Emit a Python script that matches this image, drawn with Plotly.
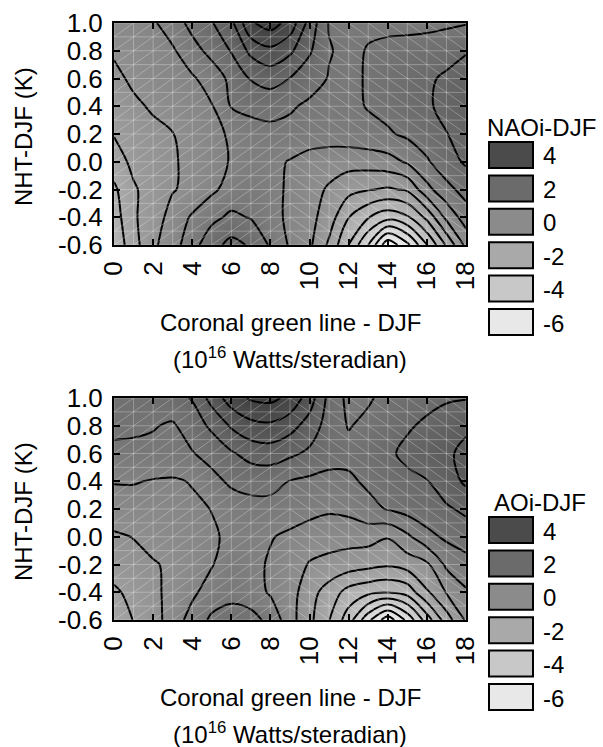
import numpy as np
import plotly.graph_objects as go

# ---------------- data ----------------
x_vals = list(range(0, 19))                      # Coronal green line (1e16 W/sr)
y_vals = [1.0, 0.8, 0.6, 0.4, 0.2, 0.0, -0.2, -0.4, -0.6]   # NHT-DJF (K), rows top->bottom

naoi_z = [
    [0.0, 0.1, 0.3, 0.8, 1.45, 1.95, 2.6, 4.3, 4.75, 4.1, 2.5, 1.15, 1.0, 1.05, 1.05, 1.0, 1.0, 1.05, 1.15],
    [-0.3, -0.15, 0.05, 0.3, 0.9, 1.45, 2.05, 3.0, 3.4, 2.95, 2.1, 1.25, 1.0, 1.25, 1.35, 1.45, 1.55, 1.75, 1.95],
    [-0.6, -0.25, -0.05, 0.1, 0.3, 0.75, 1.4, 2.05, 2.3, 1.98, 1.55, 1.15, 0.95, 1.3, 1.5, 1.7, 1.9, 2.1, 2.3],
    [-0.9, -0.55, -0.3, -0.15, 0.1, 0.35, 1.25, 1.45, 1.5, 1.3, 1.05, 0.95, 1.0, 1.25, 1.45, 1.7, 1.9, 2.2, 2.4],
    [-1.15, -0.85, -0.6, -0.42, -0.1, 0.2, 0.5, 0.8, 0.95, 0.95, 0.85, 0.8, 0.85, 0.95, 1.1, 1.35, 1.65, 1.98, 2.2],
    [-1.6, -1.0, -0.7, -0.5, -0.15, 0.15, 0.45, 0.7, 0.6, 0.35, 0.05, -0.05, -0.1, -0.05, 0.1, 0.5, 1.1, 1.7, 2.1],
    [-2.15, -1.3, -0.85, -0.45, -0.2, 0.25, 0.7, 0.9, 0.7, 0.25, -0.1, -0.5, -0.95, -1.15, -1.3, -1.1, 0.15, 0.95, 1.5],
    [-2.4, -1.3, -0.8, -0.1, 0.5, 1.0, 1.35, 1.15, 0.75, 0.2, -0.15, -0.8, -1.98, -2.75, -3.3, -2.9, -1.8, -0.2, 0.8],
    [-2.6, -1.5, -0.55, 0.05, 0.9, 1.7, 2.25, 1.9, 1.1, 0.3, -0.25, -1.35, -2.82, -4.42, -6.6, -5.4, -3.62, -1.9, -0.2],
]

aoi_z = [
    [1.5, 1.55, 1.6, 1.75, 2.05, 3.1, 4.0, 4.5, 4.6, 4.2, 3.2, 1.75, 1.0, 1.1, 1.45, 1.6, 1.75, 1.9, 1.95],
    [1.4, 1.35, 1.25, 1.1, 1.6, 2.15, 2.9, 3.35, 3.45, 3.1, 2.45, 1.65, 1.15, 1.4, 1.65, 1.9, 2.15, 2.4, 2.7],
    [1.0, 1.0, 1.0, 1.05, 1.15, 1.5, 1.9, 2.3, 2.4, 2.15, 1.85, 1.55, 1.45, 1.55, 1.85, 2.2, 2.45, 2.7, 2.95],
    [0.45, 0.45, 0.35, 0.3, 0.45, 0.95, 1.35, 1.45, 1.45, 1.18, 1.05, 0.95, 1.05, 1.35, 1.6, 1.8, 1.97, 2.4, 2.95],
    [0.0, 0.05, 0.05, 0.1, 0.25, 0.42, 0.75, 0.95, 0.95, 0.8, 0.7, 0.5, 0.6, 0.95, 1.25, 1.5, 1.7, 1.9, 2.15],
    [-0.5, -0.38, -0.2, -0.05, 0.1, 0.3, 0.55, 0.6, 0.45, 0.25, -0.05, -0.05, -0.1, -0.1, -0.35, 0.25, 0.95, 1.35, 1.6],
    [-0.8, -0.6, -0.45, -0.3, -0.05, 0.35, 0.85, 0.65, 0.3, -0.05, -0.45, -0.65, -0.8, -0.95, -1.1, -0.85, -0.55, 0.55, 0.9],
    [-1.35, -0.95, -0.55, -0.2, 0.25, 0.75, 0.95, 0.8, 0.3, -0.05, -0.9, -1.55, -2.3, -2.6, -2.75, -2.5, -1.3, -0.35, 0.3],
    [-1.6, -1.18, -0.75, 0.0, 0.7, 1.35, 1.55, 1.45, 1.0, -0.1, -1.0, -1.98, -3.22, -5.0, -6.5, -5.0, -3.22, -1.6, -0.3],
]

x_tick_vals = [0, 2, 4, 6, 8, 10, 12, 14, 16, 18]
x_tick_labels = ["0", "2", "4", "6", "8", "10", "12", "14", "16", "18"]
y_tick_vals = [1.0, 0.8, 0.6, 0.4, 0.2, 0.0, -0.2, -0.4, -0.6]
y_tick_labels = ["1.0", "0.8", "0.6", "0.4", "0.2", "0.0", "-0.2", "-0.4", "-0.6"]

legend_levels = [4, 2, 0, -2, -4, -6]
legend_labels = ["4", "2", "0", "-2", "-4", "-6"]
legend_colors = ["#4b4b4b", "#6b6b6b", "#8b8b8b", "#a9a9a9", "#c8c8c8", "#e8e8e8"]
panel_titles = ["NAOi-DJF", "AOi-DJF"]

x_title = "Coronal green line - DJF"
x_title2 = "(10<sup>16</sup> Watts/steradian)"
y_title = "NHT-DJF (K)"

# ---------------- styling ----------------
W, H = 603, 747
FONT = "Liberation Sans, Arial, Helvetica, sans-serif"
ZMIN, ZMAX = -6.5, 4.8
GRAY_SCALE = [[0.0, "rgb(245,245,245)"], [1.0, "rgb(58,58,58)"]]
LEVEL_START, LEVEL_END, LEVEL_SIZE = -6.0, 4.4, 0.8

PLOT_LEFT, PLOT_RIGHT = 114, 466
PANELS = [dict(top=23, bottom=245), dict(top=398, bottom=620)]


def px_x(p):
    return p / W


def px_y(p):
    return 1 - p / H


fig = go.Figure()

y_asc = y_vals[::-1]
for k, zrows in enumerate([naoi_z, aoi_z]):
    xa = "x" if k == 0 else "x2"
    ya = "y" if k == 0 else "y2"
    z_asc = zrows[::-1]
    fig.add_trace(go.Heatmap(
        x=x_vals, y=y_asc, z=z_asc, zsmooth="best",
        colorscale=GRAY_SCALE, zmin=ZMIN, zmax=ZMAX, showscale=False,
        hoverinfo="skip", xaxis=xa, yaxis=ya))
    # faint rendering mesh
    xs, ys = [], []
    ygrid = np.round(np.arange(min(y_vals), max(y_vals) + 1e-9, 0.1), 2)
    for xv in x_vals:
        xs += [xv, xv, None]
        ys += [ygrid[0], ygrid[-1], None]
    for yv in ygrid:
        xs += [x_vals[0], x_vals[-1], None]
        ys += [yv, yv, None]
    for i in range(len(x_vals) - 1):
        for j in range(len(ygrid) - 1):
            xs += [x_vals[i], x_vals[i + 1], None]
            if x_vals[i] < 9:
                ys += [ygrid[j], ygrid[j + 1], None]
            else:
                ys += [ygrid[j + 1], ygrid[j], None]
    fig.add_trace(go.Scatter(
        x=xs, y=ys, mode="lines", line=dict(color="rgba(255,255,255,0.28)", width=1),
        hoverinfo="skip", showlegend=False, xaxis=xa, yaxis=ya))
    fig.add_trace(go.Contour(
        x=x_vals, y=y_asc, z=z_asc,
        autocontour=False,
        contours=dict(start=LEVEL_START, end=LEVEL_END, size=LEVEL_SIZE, coloring="none"),
        line=dict(color="black", width=2, smoothing=1.0),
        showscale=False, hoverinfo="skip", xaxis=xa, yaxis=ya))

TICK_SIZE = 26
TITLE_SIZE = 24
axis_common = dict(
    showline=True, linecolor="black", linewidth=2, mirror="ticks",
    ticks="inside", ticklen=6, tickwidth=1.5, tickcolor="black",
    showgrid=False, zeroline=False,
    tickfont=dict(family=FONT, size=TICK_SIZE, color="black"),
)

layout = dict(
    width=W, height=H, margin=dict(l=0, r=0, t=0, b=0, pad=0),
    paper_bgcolor="white", plot_bgcolor="white", showlegend=False,
    font=dict(family=FONT, color="black"),
)
for k, p in enumerate(PANELS):
    sx = "xaxis" if k == 0 else "xaxis2"
    sy = "yaxis" if k == 0 else "yaxis2"
    layout[sx] = dict(
        axis_common, domain=[px_x(PLOT_LEFT), px_x(PLOT_RIGHT)], range=[0, 18],
        tickvals=x_tick_vals, ticktext=x_tick_labels, tickangle=-90,
        ticklabelstandoff=4, automargin=False, anchor="y" if k == 0 else "y2")
    layout[sy] = dict(
        axis_common, domain=[px_y(p["bottom"]), px_y(p["top"])], range=[-0.6, 1.0],
        tickvals=y_tick_vals, ticktext=y_tick_labels,
        ticklabelstandoff=4, automargin=False, anchor="x" if k == 0 else "x2")
fig.update_layout(**layout)

annotations = []
shapes = []
for k, p in enumerate(PANELS):
    off = p["top"] - PANELS[0]["top"]
    # y axis title
    annotations.append(dict(
        text=y_title, xref="paper", yref="paper", x=px_x(23), y=px_y((p["top"] + p["bottom"]) / 2 + 3),
        xanchor="center", yanchor="middle", textangle=-90, showarrow=False,
        font=dict(family=FONT, size=TITLE_SIZE, color="black")))
    # x axis title, two lines
    annotations.append(dict(
        text=x_title, xref="paper", yref="paper", x=px_x(290), y=px_y(322 + off),
        xanchor="center", yanchor="middle", showarrow=False,
        font=dict(family=FONT, size=TITLE_SIZE, color="black")))
    annotations.append(dict(
        text=x_title2, xref="paper", yref="paper", x=px_x(290), y=px_y(358 + off),
        xanchor="center", yanchor="middle", showarrow=False,
        font=dict(family=FONT, size=TITLE_SIZE, color="black")))
    # legend title
    annotations.append(dict(
        text=panel_titles[k], xref="paper", yref="paper", x=px_x(485 + (7 if k else 0)), y=px_y(127 + off),
        xanchor="left", yanchor="middle", showarrow=False,
        font=dict(family=FONT, size=TITLE_SIZE, color="black")))
    for i, (lab, col) in enumerate(zip(legend_labels, legend_colors)):
        top = 142 + off + 33.4 * i
        shapes.append(dict(
            type="rect", xref="paper", yref="paper",
            x0=px_x(489), x1=px_x(533), y0=px_y(top + 26), y1=px_y(top),
            fillcolor=col, line=dict(color="black", width=2)))
        annotations.append(dict(
            text=lab, xref="paper", yref="paper", x=px_x(541), y=px_y(top + 14),
            xanchor="left", yanchor="middle", showarrow=False,
            font=dict(family=FONT, size=TITLE_SIZE, color="black")))

fig.update_layout(annotations=annotations, shapes=shapes)
fig.write_html(
    "out.html",
    config={"responsive": False, "displayModeBar": False},
    post_script="document.body.style.margin='0px';document.body.style.overflow='hidden';",
)
